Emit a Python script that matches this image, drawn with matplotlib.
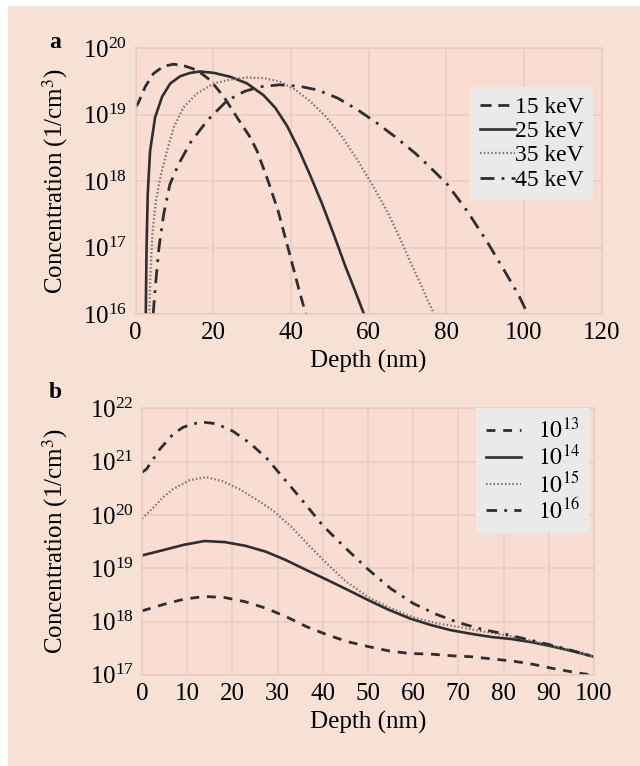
#!/usr/bin/env python3
"""Implanted dopant concentration profiles vs depth: (a) energy series, (b) dose series."""

import matplotlib
matplotlib.use("Agg")
import matplotlib.pyplot as plt
import numpy as np
from matplotlib.patches import Rectangle

# ---- panel a: energy series (depth in nm, log10 of concentration in 1/cm^3)
depth_15 = [0, 0.7, 2.45, 4.6, 7.2, 9.8, 12.8, 15.8, 19.2, 22.7, 26.1, 29.5, 31.3, 34.0,
            36.7, 39.9, 42.0, 43.8]
logc_15 = [19.12, 19.18, 19.42, 19.62, 19.73, 19.76, 19.73, 19.67, 19.52, 19.27, 18.96, 18.66,
           18.45, 18.02, 17.55, 16.85, 16.38, 16.0]

depth_25 = [2.6, 2.8, 3.1, 3.7, 5.0, 6.8, 8.9, 11.5, 14.1, 16.6, 20.1, 24.4, 28.7, 33.0, 36.0,
            39.0, 42.0, 45.0, 48.0, 51.0, 54.0, 56.5, 58.8]
logc_25 = [16.0, 17.0, 17.8, 18.45, 18.96, 19.27, 19.47, 19.58, 19.63, 19.65, 19.63, 19.57,
           19.47, 19.29, 19.1, 18.83, 18.48, 18.08, 17.66, 17.2, 16.72, 16.35, 16.0]

depth_35 = [3.5, 3.8, 4.3, 5.2, 6.5, 8.05, 9.8, 12.3, 15.8, 20.1, 24.4, 28.7, 33.0, 37.0, 41.0,
            45.0, 49.0, 53.0, 57.0, 61.0, 65.0, 68.0, 71.0, 73.4, 75.1, 76.9]
logc_35 = [16.0, 16.6, 17.2, 17.7, 18.1, 18.45, 18.81, 19.11, 19.32, 19.47, 19.53, 19.56, 19.55,
           19.5, 19.38, 19.2, 18.97, 18.68, 18.33, 17.94, 17.52, 17.15, 16.75, 16.45, 16.22, 16.0]

depth_45 = [4.5, 5.2, 6.0, 7.2, 8.8, 11.0, 14.1, 18.4, 23.5, 28.0, 32.0, 37.0, 42.0, 47.0, 52.0,
            57.0, 62.0, 67.0, 72.0, 76.0, 80.3, 85.5, 90.6, 95.8, 98.5, 101.0]
logc_45 = [16.0, 16.5, 17.0, 17.5, 17.95, 18.25, 18.58, 18.91, 19.21, 19.35, 19.42, 19.45, 19.43,
           19.37, 19.25, 19.08, 18.88, 18.66, 18.42, 18.2, 17.95, 17.54, 17.08, 16.57, 16.3, 16.0]

energy_labels = ["15 keV", "25 keV", "35 keV", "45 keV"]

# ---- panel b: dose series
depth_1e13 = [0, 4.7, 9.3, 13.8, 18.3, 22.9, 27.4, 31.9, 36.5, 41.0, 45.6, 50.1, 54.6, 59.2,
              63.7, 68.2, 72.8, 77.3, 81.9, 86.4, 90.9, 95.5, 100.0]
logc_1e13 = [18.2, 18.32, 18.42, 18.47, 18.45, 18.37, 18.25, 18.09, 17.9, 17.75, 17.62, 17.53,
             17.45, 17.4, 17.39, 17.36, 17.34, 17.3, 17.26, 17.2, 17.12, 17.05, 16.99]

depth_1e14 = depth_1e13
logc_1e14 = [19.24, 19.34, 19.44, 19.51, 19.49, 19.42, 19.31, 19.15, 18.96, 18.78, 18.59, 18.4,
             18.22, 18.06, 17.94, 17.84, 17.77, 17.71, 17.67, 17.61, 17.53, 17.44, 17.34]

depth_1e15 = [0, 2.4, 4.5, 6.8, 10.5, 14.2, 17.9, 21.6, 25.3, 29.0, 33.0, 37.0, 41.0, 45.0,
              50.0, 55.0, 60.0, 65.0, 70.0, 75.0, 80.0, 85.0, 90.0, 95.0, 100.0]
logc_1e15 = [19.93, 20.13, 20.32, 20.48, 20.65, 20.71, 20.63, 20.48, 20.29, 20.08, 19.78, 19.42,
             19.08, 18.76, 18.46, 18.25, 18.08, 17.97, 17.9, 17.82, 17.75, 17.66, 17.56, 17.46,
             17.34]

depth_1e16 = [0, 1.0, 3.9, 6.8, 9.0, 11.3, 13.5, 16.4, 20.1, 23.8, 27.5, 31.0, 35.0, 40.0, 45.0,
              50.0, 55.0, 60.0, 65.0, 70.0, 75.0, 80.0, 85.0, 90.0, 95.0, 100.0]
logc_1e16 = [20.8, 20.86, 21.23, 21.51, 21.64, 21.71, 21.74, 21.71, 21.57, 21.35, 21.07, 20.72,
             20.32, 19.8, 19.38, 18.98, 18.62, 18.34, 18.14, 17.98, 17.86, 17.77, 17.67, 17.57,
             17.46, 17.34]

dose_labels = [r"$10^{13}$", r"$10^{14}$", r"$10^{15}$", r"$10^{16}$"]

# ---- styling
plt.rcParams["font.family"] = ["Liberation Serif", "DejaVu Serif"]
plt.rcParams["mathtext.fontset"] = "stix"

FIG_BG = "#F7E1D5"
AX_BG = "#F9DDD2"
GRID = "#E6CDC2"
LEG_BG = "#ECEAE9"
INK = "#2E2E2E"

styles_a = [
    dict(color=INK, lw=2.0, ls=(0, (4, 2.4))),
    dict(color=INK, lw=1.9, ls="-"),
    dict(color="#7A7474", lw=1.6, ls=(0, (0.7, 1.0))),
    dict(color=INK, lw=2.0, ls=(0, (5, 2.6, 1, 2.6))),
]
styles_b = [
    dict(color=INK, lw=2.0, ls=(0, (3.2, 2.8))),
    dict(color=INK, lw=1.9, ls="-"),
    dict(color="#7A7474", lw=1.6, ls=(0, (0.7, 1.0))),
    dict(color=INK, lw=2.0, ls=(0, (3.8, 2.6, 1, 2.6))),
]


def style_axes(ax, label_x):
    ax.set_facecolor(AX_BG)
    ax.set_yscale("log")
    ax.grid(True, which="major", color=GRID, lw=1.1)
    ax.minorticks_off()
    ax.tick_params(length=0, labelsize=18, pad=6)
    for sp in ax.spines.values():
        sp.set_color(GRID)
        sp.set_linewidth(1.1)
    ax.set_xlabel("Depth (nm)", fontsize=18, labelpad=4)
    ax.set_ylabel(r"Concentration (1/cm$^3$)", fontsize=18)
    ax.yaxis.set_label_coords(label_x, 0.5)


def style_legend(leg):
    frame = leg.get_frame()
    frame.set_facecolor(LEG_BG)
    frame.set_edgecolor("none")
    frame.set_alpha(1)


fig = plt.figure(figsize=(6.4, 7.66), dpi=100, facecolor="white")
fig.patches.append(Rectangle((8 / 640, 0), 1, 1 - 6 / 766, transform=fig.transFigure,
                             facecolor=FIG_BG, edgecolor="none", zorder=-10))

# panel a
ax_a = fig.add_axes([0.212, 0.590, 0.728, 0.347])
style_axes(ax_a, -0.141)
series_a = [(depth_15, logc_15), (depth_25, logc_25), (depth_35, logc_35), (depth_45, logc_45)]
for (d, lc), lab, st in zip(series_a, energy_labels, styles_a):
    ax_a.plot(d, 10.0 ** np.array(lc), label=lab, **st)
ax_a.set_xlim(0, 120)
ax_a.set_ylim(1e16, 1e20)
ax_a.set_xticks(range(0, 121, 20))
ax_a.set_yticks([1e16, 1e17, 1e18, 1e19, 1e20])
style_legend(ax_a.legend(loc="upper right", bbox_to_anchor=(0.982, 0.855), fontsize=17,
                         frameon=True, fancybox=False, handlelength=1.5, handletextpad=0.0,
                         labelspacing=0.12, borderpad=0.4, borderaxespad=0.0))
fig.text(55 / 640, 1 - 43 / 766, "a", fontsize=17, fontweight="bold", ha="center", va="center")

# panel b
ax_b = fig.add_axes([0.222, 0.119, 0.706, 0.348])
style_axes(ax_b, -0.160)
series_b = [(depth_1e13, logc_1e13), (depth_1e14, logc_1e14),
            (depth_1e15, logc_1e15), (depth_1e16, logc_1e16)]
for (d, lc), lab, st in zip(series_b, dose_labels, styles_b):
    ax_b.plot(d, 10.0 ** np.array(lc), label=lab, **st)
ax_b.set_xlim(0, 100)
ax_b.set_ylim(1e17, 1e22)
ax_b.set_xticks(range(0, 101, 10))
ax_b.set_yticks([1e17, 1e18, 1e19, 1e20, 1e21, 1e22])
style_legend(ax_b.legend(loc="upper right", bbox_to_anchor=(0.99, 1.0), fontsize=17,
                         frameon=True, fancybox=False, handlelength=1.5, handletextpad=0.7,
                         labelspacing=0.05, borderpad=0.4, borderaxespad=0.0))
fig.text(55 / 640, 1 - 393 / 766, "b", fontsize=17, fontweight="bold", ha="center", va="center")

fig.savefig("out.png", dpi=100, facecolor=fig.get_facecolor())
